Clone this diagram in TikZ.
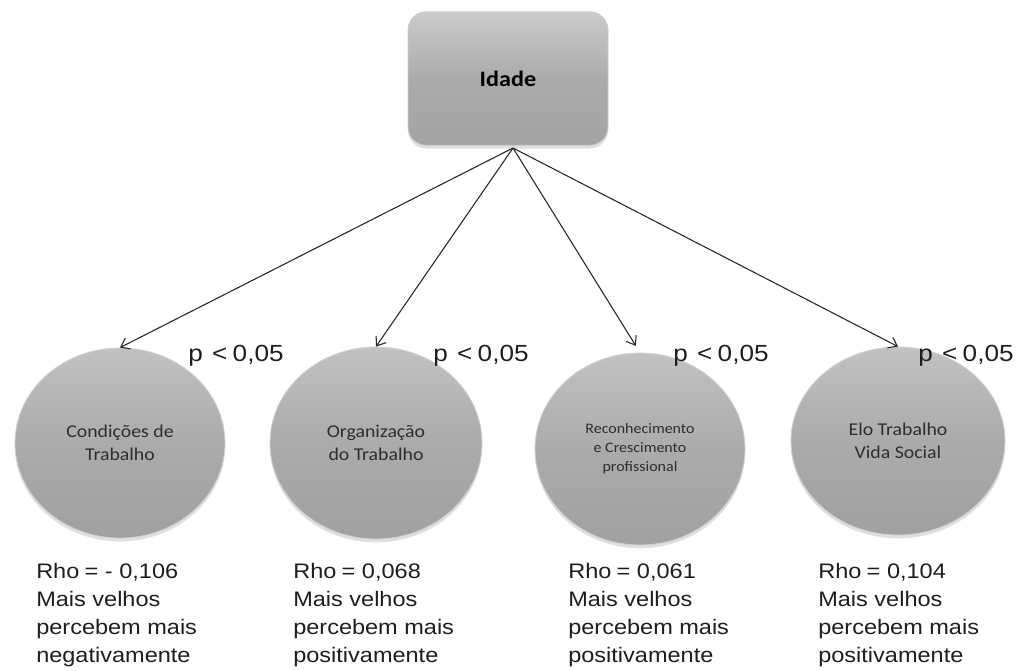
\documentclass[tikz,border=0pt]{standalone}
\usepackage{fontspec}
\setmainfont{Liberation Sans}
\newfontfamily\arialw[FakeStretch=1.12]{Liberation Sans}
\newfontfamily\calw[FakeStretch=1.1]{Carlito}
\usetikzlibrary{arrows.meta,shapes.geometric,shadows}

\definecolor{inktext}{HTML}{1E1E1E}
\definecolor{balltext}{HTML}{2E2E2E}

\tikzset{
  ball/.style={ellipse, inner sep=0pt, align=center, text=balltext,
    top color=black!24, bottom color=black!37, middle color=black!33,
    draw=black!18, line width=0.6pt,
    drop shadow={opacity=0.25, shadow xshift=0pt, shadow yshift=-2.5pt}},
  agebox/.style={rounded corners=13.5pt, inner sep=0pt,
    minimum width=150pt, minimum height=100pt,
    top color=black!20, bottom color=black!36, middle color=black!33,
    draw=black!20, line width=0.6pt,
    drop shadow={opacity=0.25, shadow xshift=0pt, shadow yshift=-2.5pt}},
  link/.style={draw=black!85, line width=0.8pt,
    -{Straight Barb[length=6pt,width=9pt,line width=0.8pt]}},
  plabel/.style={anchor=north west, inner sep=0pt, text=inktext,
    font=\arialw\fontsize{17.5pt}{20pt}\selectfont},
  rholabel/.style={anchor=north west, inner sep=0pt, align=left, text=inktext,
    font=\arialw\fontsize{15.75pt}{21pt}\selectfont}
}

\newcommand{\pval}{p\hspace{7pt}<\hspace{4pt}0,05}

\begin{document}
\begin{tikzpicture}[x=0.75pt,y=-0.75pt]
  \useasboundingbox[fill=white] (0,0) rectangle (1028,671);

  % central variable
  \node[agebox, font=\calw\bfseries\fontsize{16.5pt}{18pt}\selectfont]
    (idade) at (508,78.5) {Idade};
  \coordinate (src) at (513,148);

  % the four dimensions
  \node[ball, minimum width=157.5pt, minimum height=142.5pt,
        font=\calw\fontsize{13.5pt}{17.25pt}\selectfont]
    (c1) at (120,443) {Condições de\\Trabalho};
  \node[ball, minimum width=159pt, minimum height=144pt,
        font=\calw\fontsize{13.5pt}{17.25pt}\selectfont]
    (c2) at (376,443) {Organização\\do Trabalho};
  \node[ball, minimum width=157.5pt, minimum height=144pt,
        font=\calw\fontsize{10.9pt}{14.25pt}\selectfont]
    (c3) at (640,449) {Reconhecimento\\e Crescimento\\profissional};
  \node[ball, minimum width=160.5pt, minimum height=141pt,
        font=\calw\fontsize{13.5pt}{17.25pt}\selectfont]
    (c4) at (898,441) {Elo Trabalho\\Vida Social};

  % correlations
  \draw[link] (src) -- (c1.north);
  \draw[link] (src) -- (c2.north);
  \draw[link, shorten >=6pt] (src) -- (c3.north);
  \draw[link] (src) -- (c4.north);

  % significance
  \node[plabel] (p1) at (188,345) {\pval};
  \node[plabel] (p2) at (433,345) {\pval};
  \node[plabel] (p3) at (673,345) {\pval};
  \node[plabel] (p4) at (918,345) {\pval};

  % coefficients and reading
  \node[rholabel] (r1) at (36,563)
    {Rho\hspace{4pt}= - 0,106\\Mais velhos\\percebem mais\\negativamente};
  \node[rholabel] (r2) at (293,563)
    {Rho\hspace{4pt}= 0,068\\Mais velhos\\percebem mais\\positivamente};
  \node[rholabel] (r3) at (568,563)
    {Rho\hspace{4pt}= 0,061\\Mais velhos\\percebem mais\\positivamente};
  \node[rholabel] (r4) at (818,563)
    {Rho\hspace{4pt}= 0,104\\Mais velhos\\percebem mais\\positivamente};
\end{tikzpicture}
\end{document}
